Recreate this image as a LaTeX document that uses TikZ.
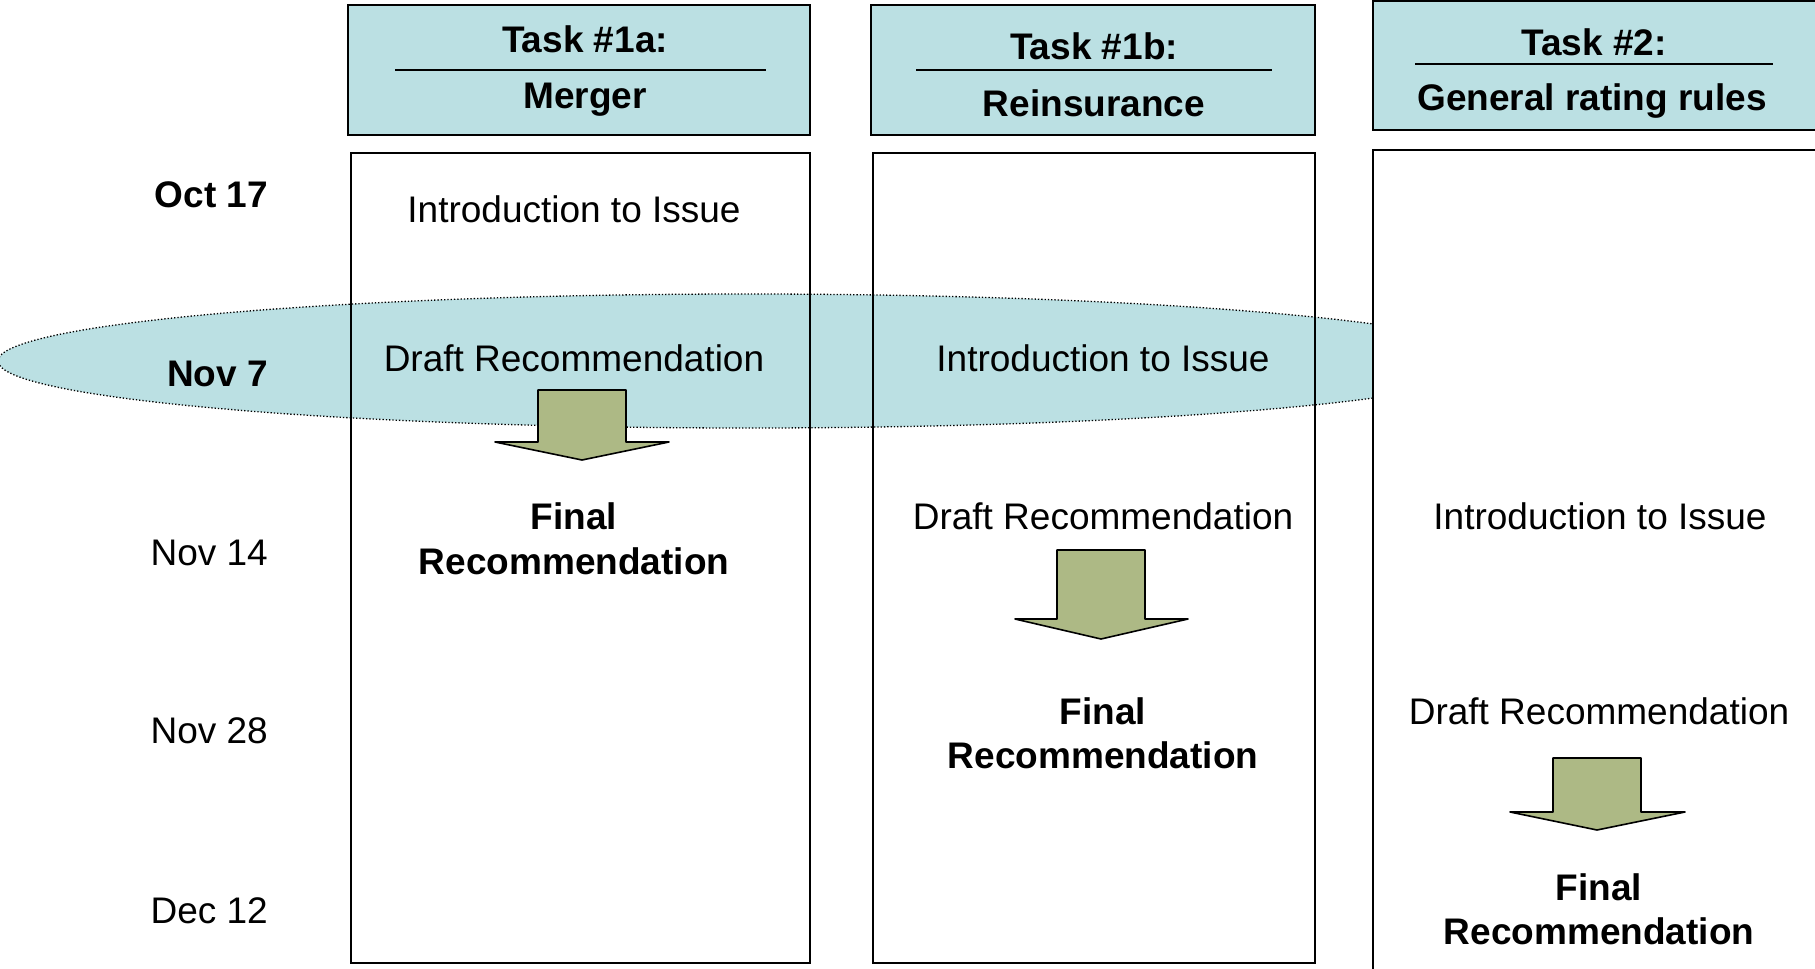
\documentclass[tikz,border=0pt]{standalone}
\usepackage{fontspec}
\setmainfont{Liberation Sans}
\definecolor{headfill}{RGB}{187,224,227}
\definecolor{arrowfill}{RGB}{173,185,133}
\begin{document}
\begin{tikzpicture}[x=1pt,y=-1pt,
  headbox/.style={draw=black, line width=2.5pt, fill=headfill},
  bodybox/.style={draw=black, line width=2.2pt},
  txt/.style={font=\fontsize{37}{44}\selectfont, anchor=base, inner sep=0pt},
  btxt/.style={font=\fontsize{37}{44}\selectfont\bfseries, anchor=base, inner sep=0pt},
  datelbl/.style={font=\fontsize{37}{44}\selectfont, anchor=base east, inner sep=0pt},
  bdatelbl/.style={font=\fontsize{37}{44}\selectfont\bfseries, anchor=base east, inner sep=0pt},
  rulerline/.style={line width=1.6pt},
  band/.style={draw=black, dotted, line width=1.3pt, fill=headfill},
  bigarrow/.style={draw=black, line width=1.6pt, fill=arrowfill, line join=round}]
\useasboundingbox (0,0) rectangle (1815,969);

% highlighted band for Nov 7
\draw[band] (748,361) ellipse [x radius=750pt, y radius=67pt];

% column bodies
\draw[bodybox] (351,153) rectangle (810,963);
\draw[bodybox] (873,153) rectangle (1315,963);
\draw[bodybox, fill=white] (1373,150) rectangle (1835,995);

% column headers
\draw[headbox] (348,5) rectangle (810,135);
\draw[headbox] (871,5) rectangle (1315,135);
\draw[headbox] (1373,1) rectangle (1835,130);

\node[btxt] (h1a) at (585,52) {Task \#1a:};
\draw[rulerline] (395,70) -- (766,70);
\node[btxt] (h1aname) at (585,108) {Merger};

\node[btxt] (h1b) at (1094,59) {Task \#1b:};
\draw[rulerline] (916,70) -- (1272,70);
\node[btxt] (h1bname) at (1094,116) {Reinsurance};

\node[btxt] (h2) at (1594,55) {Task \#2:};
\draw[rulerline] (1415,64) -- (1773,64);
\node[btxt] (h2name) at (1592,110) {General rating rules};

% dates
\node[bdatelbl] (d1) at (268,207) {Oct 17};
\node[bdatelbl] (d2) at (268,386) {Nov 7};
\node[datelbl] (d3) at (268,565) {Nov 14};
\node[datelbl] (d4) at (268,743) {Nov 28};
\node[datelbl] (d5) at (268,923) {Dec 12};

% arrows
\draw[bigarrow] (538,390) -- (626,390) -- (626,442) -- (669,442) -- (582,460)
  -- (495,442) -- (538,442) -- cycle;
\draw[bigarrow] (1057,550) -- (1145,550) -- (1145,619) -- (1188,619) -- (1101,639)
  -- (1015,619) -- (1057,619) -- cycle;
\draw[bigarrow] (1553,758) -- (1641,758) -- (1641,812) -- (1685,812) -- (1597,830)
  -- (1510,812) -- (1553,812) -- cycle;

% column 1a
\node[txt] (i1a) at (574,222) {Introduction to Issue};
\node[txt] (r1a) at (574,371) {Draft Recommendation};
\node[btxt] (f1a) at (574,529) {Final};
\node[btxt] (g1a) at (574,574) {Recommendation};

% column 1b
\node[txt] (i1b) at (1103,371) {Introduction to Issue};
\node[txt] (r1b) at (1103,529) {Draft Recommendation};
\node[btxt] (f1b) at (1103,724) {Final};
\node[btxt] (g1b) at (1103,768) {Recommendation};

% column 2
\node[txt] (i2) at (1600,529) {Introduction to Issue};
\node[txt] (r2) at (1599,724) {Draft Recommendation};
\node[btxt] (f2) at (1599,900) {Final};
\node[btxt] (g2) at (1599,944) {Recommendation};
\end{tikzpicture}
\end{document}
